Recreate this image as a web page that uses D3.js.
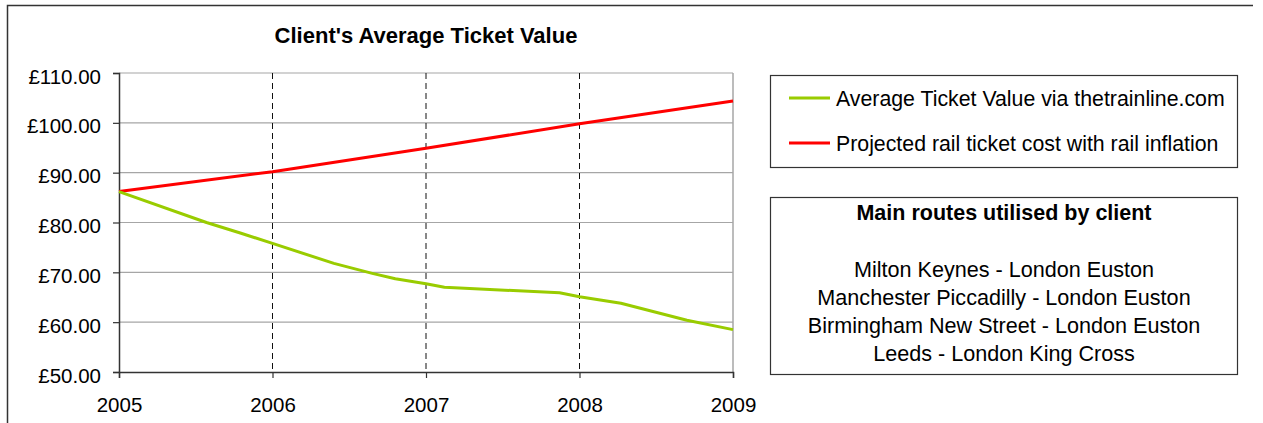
<!DOCTYPE html>
<html>
<head>
<meta charset="utf-8">
<script src="https://cdn.jsdelivr.net/npm/d3@7"></script>
<style>
  html, body { margin: 0; padding: 0; background: #fff; }
  svg { display: block; font-family: "Liberation Sans", Arial, sans-serif; }
</style>
</head>
<body>
<svg id="chart" width="1263" height="423"></svg>
<script>
// ---- data ----
const title = "Client's Average Ticket Value";
const years = [2005, 2006, 2007, 2008, 2009];
const yTicks = [50, 60, 70, 80, 90, 100, 110];
const seriesNames = ["Average Ticket Value via thetrainline.com", "Projected rail ticket cost with rail inflation"];
const seriesColors = ["#99cc00", "#ff0000"];
// green series: points read at (fractional) year positions
const avgTimes  = [2005, 2005.57, 2005.79, 2006, 2006.40, 2006.65, 2006.80, 2007, 2007.12, 2007.87, 2008, 2008.27, 2008.70, 2009];
const avgValues = [86.2, 80.0,    77.9,    75.8, 71.8,    69.8,    68.7,    67.7, 67.0,    65.9,    65.1, 63.8,    60.4,    58.5];
// red series: one value per year
const projValues = [86.2, 90.2, 94.9, 99.8, 104.4];
const routesTitle = "Main routes utilised by client";
const routes = [
  "Milton Keynes - London Euston",
  "Manchester Piccadilly - London Euston",
  "Birmingham New Street - London Euston",
  "Leeds - London King Cross"
];

// ---- layout ----
const svg = d3.select("#chart");
const x = d3.scaleLinear().domain([2005, 2009]).range([119, 733]);
const y = d3.scaleLinear().domain([50, 110]).range([372, 73]);

// outer frame (top + left edges visible)
svg.append("path")
  .attr("d", "M7.5,423 L7.5,5.5 L1253,5.5")
  .attr("fill", "none").attr("stroke", "#333").attr("stroke-width", 1.5);

// title
svg.append("text").attr("x", 426).attr("y", 43)
  .attr("text-anchor", "middle").attr("font-weight", "bold")
  .attr("font-size", "22px").attr("fill", "#000").text(title);

// horizontal gridlines
svg.append("g").selectAll("line").data(yTicks.filter(d => d > 50)).join("line")
  .attr("x1", x(2005)).attr("x2", x(2009))
  .attr("y1", d => y(d)).attr("y2", d => y(d))
  .attr("stroke", "#a6a6a6").attr("stroke-width", 1.2);

// right border
svg.append("line").attr("x1", x(2009)).attr("x2", x(2009))
  .attr("y1", y(110)).attr("y2", y(50))
  .attr("stroke", "#a6a6a6").attr("stroke-width", 1.5);

// vertical dashed lines
svg.append("g").selectAll("line").data(years.slice(1, -1)).join("line")
  .attr("x1", d => x(d)).attr("x2", d => x(d))
  .attr("y1", y(110)).attr("y2", y(50))
  .attr("stroke", "#111").attr("stroke-width", 1).attr("stroke-dasharray", "6,4");

// axes
const yAxis = svg.append("g").attr("transform", `translate(${x(2005)},0)`)
  .call(d3.axisLeft(y).tickValues(yTicks).tickSize(6).tickPadding(12)
    .tickFormat(d => "£" + d3.format(".2f")(d)));
yAxis.select(".domain").attr("stroke", "#333").attr("stroke-width", 1.5);
yAxis.selectAll(".tick line").attr("stroke", "#333").attr("stroke-width", 1.2);
yAxis.selectAll("text").attr("font-size", "20.5px").attr("fill", "#000")
  .attr("font-family", "Liberation Sans, Arial, sans-serif").attr("dy", "10px");

const xAxis = svg.append("g").attr("transform", `translate(0,${y(50)})`)
  .call(d3.axisBottom(x).tickValues(years).tickSize(6).tickPadding(19).tickFormat(d3.format("d")));
xAxis.select(".domain").attr("stroke", "#333").attr("stroke-width", 1.5);
xAxis.selectAll(".tick line").attr("stroke", "#333").attr("stroke-width", 1.2);
xAxis.selectAll("text").attr("font-size", "20.5px").attr("fill", "#000")
  .attr("font-family", "Liberation Sans, Arial, sans-serif");

// lines
const line = d3.line().x(d => x(d[0])).y(d => y(d[1]));
svg.append("path").datum(years.map((t, i) => [t, projValues[i]]))
  .attr("d", line).attr("fill", "none").attr("stroke", seriesColors[1])
  .attr("stroke-width", 3).attr("stroke-linejoin", "round");
svg.append("path").datum(avgTimes.map((t, i) => [t, avgValues[i]]))
  .attr("d", line).attr("fill", "none").attr("stroke", seriesColors[0])
  .attr("stroke-width", 3).attr("stroke-linejoin", "round");

// legend box
svg.append("rect").attr("x", 770.5).attr("y", 75.5).attr("width", 467).attr("height", 92)
  .attr("fill", "#fff").attr("stroke", "#333").attr("stroke-width", 1.2);
const legY = [98, 143];
seriesNames.forEach((name, i) => {
  svg.append("line").attr("x1", 789).attr("x2", 830).attr("y1", legY[i]).attr("y2", legY[i])
    .attr("stroke", seriesColors[i]).attr("stroke-width", 3);
  svg.append("text").attr("x", 836).attr("y", legY[i] + 8)
    .attr("font-size", "21.3px").attr("fill", "#000").text(name);
});

// routes box
svg.append("rect").attr("x", 770.5).attr("y", 197.5).attr("width", 467).attr("height", 177)
  .attr("fill", "#fff").attr("stroke", "#333").attr("stroke-width", 1.2);
svg.append("text").attr("x", 1004).attr("y", 220).attr("text-anchor", "middle")
  .attr("font-weight", "bold").attr("font-size", "21.5px").attr("fill", "#000").text(routesTitle);
const routeY = [277, 305, 333, 361];
routes.forEach((r, i) => {
  svg.append("text").attr("x", 1004).attr("y", routeY[i]).attr("text-anchor", "middle")
    .attr("font-size", "21.6px").attr("fill", "#000").text(r);
});
</script>
</body>
</html>
